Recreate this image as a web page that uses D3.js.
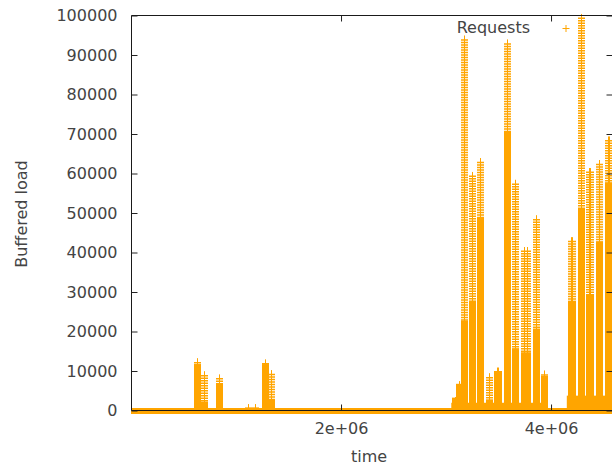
<!DOCTYPE html>
<html>
<head>
<meta charset="utf-8">
<script src="https://cdn.jsdelivr.net/npm/d3@7"></script>
<style>
  body { margin: 0; background: #fff; }
  text { font-family: "DejaVu Sans", sans-serif; fill: #444; }
</style>
</head>
<body>
<svg id="chart" width="612" height="470"></svg>
<script>
// columns of "+" points (time in seconds, load values)
const colStart = [0.600e6, 0.667e6, 0.810e6, 1.086e6, 1.152e6, 1.248e6, 1.305e6, 3.057e6, 3.095e6, 3.143e6, 3.219e6, 3.295e6,
                  3.381e6, 3.457e6, 3.552e6, 3.629e6, 3.714e6, 3.829e6, 3.905e6, 4.162e6, 4.257e6, 4.333e6, 4.429e6, 4.514e6];
const colEnd   = [0.648e6, 0.705e6, 0.876e6, 1.124e6, 1.190e6, 1.295e6, 1.343e6, 3.086e6, 3.124e6, 3.181e6, 3.276e6, 3.352e6,
                  3.438e6, 3.533e6, 3.619e6, 3.686e6, 3.810e6, 3.886e6, 3.962e6, 4.238e6, 4.314e6, 4.410e6, 4.495e6, 4.590e6];
const colPeak  = [12300, 9000, 8200, 700, 700, 12000, 9300, 2500, 6500, 94000, 59500, 63000,
                  8500, 10000, 93000, 57500, 40500, 48500, 9200, 43000, 99500, 60500, 62500, 68500];
const colSolid = [11000, 1500, 6000, 0, 0, 11000, 2000, 2500, 6000, 22000, 27000, 48000,
                  2000, 9000, 70000, 15000, 14000, 20000, 8000, 27000, 50500, 28500, 42000, 57000];

// low level filled stretches
const baseStart = [3.050e6, 4.150e6];
const baseEnd   = [3.962e6, 4.590e6];
const baseLevel = [1200, 3000];

// floor of near-zero points
const floorStart = [0];
const floorEnd   = [4.590e6];
const floorLevel = [0];

const yTicks = [0, 10000, 20000, 30000, 40000, 50000, 60000, 70000, 80000, 90000, 100000];
const xTicks = [2e6, 4e6];
const xTickLabels = ["2e+06", "4e+06"];

const orange = "#ffa500";
const svg = d3.select("#chart");

const x = d3.scaleLinear().domain([0, 4.59e6]).range([131, 613]);
const y = d3.scaleLinear().domain([0, 100000]).range([410.5, 15.5]);

svg.append("clipPath").attr("id", "plot-clip")
  .append("rect")
  .attr("x", 131).attr("y", 10)
  .attr("width", 482).attr("height", 406);

const plot = svg.append("g").attr("clip-path", "url(#plot-clip)");

// floor band
plot.selectAll(".floor")
  .data(floorStart)
  .enter().append("line")
  .attr("x1", (d, i) => x(floorStart[i]) - 3.5)
  .attr("x2", (d, i) => x(floorEnd[i]) + 3.5)
  .attr("y1", (d, i) => y(floorLevel[i]) + 0.5)
  .attr("y2", (d, i) => y(floorLevel[i]) + 0.5)
  .attr("stroke", orange)
  .attr("stroke-width", 6);

// base fill
plot.selectAll(".base")
  .data(baseStart)
  .enter().append("rect")
  .attr("x", (d, i) => x(baseStart[i]))
  .attr("width", (d, i) => x(baseEnd[i]) - x(baseStart[i]))
  .attr("y", (d, i) => y(baseLevel[i]) - 3)
  .attr("height", (d, i) => y(0) - y(baseLevel[i]) + 3)
  .attr("fill", orange);

const left = i => Math.round(x(colStart[i]));
const width = i => Math.max(Math.round(x(colEnd[i])) - left(i), 7);

const cols = plot.selectAll(".col")
  .data(colStart)
  .enter().append("g")
  .attr("class", "col");

// dense part: solid
cols.append("rect")
  .attr("x", (d, i) => left(i))
  .attr("width", (d, i) => width(i))
  .attr("y", (d, i) => y(colSolid[i]) - 3)
  .attr("height", (d, i) => y(0) - y(colSolid[i]) + 3)
  .attr("fill", orange);

// sparse part: stacked + markers (rungs)
cols.append("line")
  .attr("x1", (d, i) => left(i) + width(i) / 2)
  .attr("x2", (d, i) => left(i) + width(i) / 2)
  .attr("y1", (d, i) => y(colPeak[i]))
  .attr("y2", (d, i) => y(colSolid[i]))
  .attr("stroke", orange)
  .attr("stroke-width", (d, i) => width(i))
  .attr("stroke-dasharray", "1.5 1");

// sparse part: vertical strokes of the markers
[3.5, -3.5].forEach(off => {
  cols.append("line")
    .attr("x1", (d, i) => (off > 0 ? left(i) : left(i) + width(i)) + off)
    .attr("x2", (d, i) => (off > 0 ? left(i) : left(i) + width(i)) + off)
    .attr("y1", (d, i) => y(colPeak[i]) - 3.5)
    .attr("y2", (d, i) => y(colSolid[i]))
    .attr("stroke", orange)
    .attr("stroke-width", 1);
});

// axes
svg.append("g")
  .attr("transform", "translate(131.5,0)")
  .call(d3.axisLeft(y).tickValues(yTicks).tickSize(-6).tickPadding(14).tickFormat(d => String(d)));

svg.append("g")
  .attr("transform", "translate(612.5,0)")
  .call(d3.axisRight(y).tickValues(yTicks).tickSize(-6).tickFormat(""));

svg.append("g")
  .attr("transform", "translate(0,410.5)")
  .call(d3.axisBottom(x).tickValues(xTicks).tickSize(-6).tickPadding(12.5)
    .tickFormat((d, i) => xTickLabels[i]));

svg.append("g")
  .attr("transform", "translate(0,15.5)")
  .call(d3.axisTop(x).tickValues(xTicks).tickSize(-6).tickFormat(""));

svg.selectAll(".domain").remove();
svg.selectAll(".tick line").attr("stroke", "#222");
svg.selectAll(".tick text")
  .style("font-family", "DejaVu Sans, sans-serif")
  .style("font-size", "16px")
  .attr("fill", "#444");

// border
svg.append("path")
  .attr("d", "M131.5,15.5H612.5M131.5,15.5V410.5H612.5")
  .attr("fill", "none")
  .attr("stroke", "#1a1a1a")
  .attr("stroke-width", 1);

// axis titles
svg.append("text")
  .attr("x", 369).attr("y", 462)
  .attr("text-anchor", "middle")
  .style("font-size", "16px")
  .text("time");

svg.append("text")
  .attr("transform", "translate(26.5,214) rotate(-90)")
  .attr("text-anchor", "middle")
  .style("font-size", "16px")
  .text("Buffered load");

// key
svg.append("text")
  .attr("x", 530).attr("y", 32.7)
  .attr("text-anchor", "end")
  .style("font-size", "16px")
  .text("Requests");

svg.append("path")
  .attr("d", "M562.5,28.5h7M566,25v7")
  .attr("stroke", orange)
  .attr("stroke-width", 1)
  .attr("fill", "none");
</script>
</body>
</html>
